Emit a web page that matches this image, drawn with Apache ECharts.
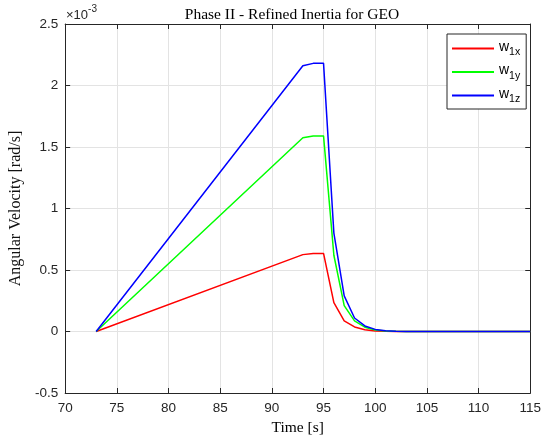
<!DOCTYPE html>
<html>
<head>
<meta charset="utf-8">
<script src="https://cdn.jsdelivr.net/npm/echarts@6/dist/echarts.min.js"></script>
<style>
  html, body { margin: 0; padding: 0; background: #fff; }
  #chart { width: 544px; height: 441px; }
</style>
</head>
<body>
<div id="chart"></div>
<script>
// Time samples [s]
const time = [73, 93, 94, 95, 96, 97, 98, 99, 100, 101, 102, 103, 115];
// Angular velocity components [rad/s]
const w1x = [0, 0.000625, 0.000635, 0.000635, 0.000235, 0.000086, 0.000037, 0.000015, 0.000005, 0.000002, 0.0000005, 0, 0];
const w1y = [0, 0.001575, 0.00159, 0.00159, 0.00062, 0.00021, 0.000086, 0.000035, 0.000013, 0.000005, 0.000002, 0, 0];
const w1z = [0, 0.00216, 0.00218, 0.00218, 0.0008, 0.00029, 0.00011, 0.000045, 0.000017, 0.000006, 0.000002, 0, 0];
const seriesNames = ['w1x', 'w1y', 'w1z'];
const seriesColors = ['#ff0000', '#00ff00', '#0000ff'];

const pairs = vals => time.map((t, i) => [t, vals[i]]);
const axisColor = '#262626';
const sans = 'Liberation Sans, Arial, Helvetica, sans-serif';
const serif = 'Liberation Serif, Times New Roman, serif';

const chart = echarts.init(document.getElementById('chart'), null, { renderer: 'canvas' });

const xCommon = { type: 'value', min: 70, max: 115, interval: 5 };
const yCommon = { type: 'value', min: -0.0005, max: 0.0025, interval: 0.0005 };

chart.setOption({
  animation: false,
  backgroundColor: '#ffffff',
  title: {
    text: 'Phase II - Refined Inertia for GEO',
    left: 287, top: 2, textAlign: 'center',
    textStyle: { fontFamily: serif, fontSize: 15.5, fontWeight: 'normal', color: '#000' }
  },
  grid: { left: 65, right: 9, top: 24, bottom: 47, show: false },
  legend: {
    orient: 'vertical',
    left: 447, top: 34,
    padding: [6, 6, 4, 5],
    itemGap: 5.5,
    itemWidth: 42, itemHeight: 2,
    icon: 'rect',
    backgroundColor: '#fff',
    borderColor: axisColor, borderWidth: 1,
    data: seriesNames,
    formatter: name => '{w|w}{s|' + name.slice(1) + '}',
    textStyle: {
      rich: {
        w: { fontFamily: sans, fontSize: 14, color: '#000', padding: [0, 0, 3, 0] },
        s: { fontFamily: sans, fontSize: 10.5, color: '#000', padding: [8, 0, 0, 0] }
      }
    }
  },
  graphic: [{
    type: 'text', left: 66, top: 4,
    style: {
      text: '{a|\u00d710}{b|-3}',
      rich: {
        a: { fontFamily: sans, fontSize: 13, fill: axisColor, padding: [6, 0, 0, 0] },
        b: { fontFamily: sans, fontSize: 10, fill: axisColor, padding: [0, 0, 6, 0] }
      }
    }
  }],
  xAxis: [
    Object.assign({}, xCommon, {
      position: 'bottom',
      name: 'Time [s]', nameLocation: 'middle', nameGap: 27,
      nameTextStyle: { fontFamily: serif, fontSize: 15.5, color: '#000' },
      axisLine: { show: true, onZero: false, lineStyle: { color: axisColor, width: 1 } },
      axisTick: { show: true, inside: true, length: 5, lineStyle: { color: axisColor } },
      axisLabel: { fontFamily: sans, fontSize: 13.5, color: axisColor, margin: 8 },
      splitLine: { show: true, lineStyle: { color: '#e3e3e3', width: 1 } }
    }),
    Object.assign({}, xCommon, {
      position: 'top',
      axisLine: { show: true, onZero: false, lineStyle: { color: axisColor, width: 1 } },
      axisTick: { show: true, inside: true, length: 5, lineStyle: { color: axisColor } },
      axisLabel: { show: false },
      splitLine: { show: false }
    })
  ],
  yAxis: [
    Object.assign({}, yCommon, {
      position: 'left',
      name: 'Angular Velocity [rad/s]', nameLocation: 'middle', nameGap: 39,
      nameTextStyle: { fontFamily: serif, fontSize: 16, color: '#111' },
      axisLine: { show: true, onZero: false, lineStyle: { color: axisColor, width: 1 } },
      axisTick: { show: true, inside: true, length: 5, lineStyle: { color: axisColor } },
      axisLabel: {
        fontFamily: sans, fontSize: 13.5, color: axisColor, margin: 7,
        formatter: v => String(parseFloat((v * 1000).toFixed(3)))
      },
      splitLine: { show: true, lineStyle: { color: '#e3e3e3', width: 1 } }
    }),
    Object.assign({}, yCommon, {
      position: 'right',
      axisLine: { show: true, onZero: false, lineStyle: { color: axisColor, width: 1 } },
      axisTick: { show: true, inside: true, length: 5, lineStyle: { color: axisColor } },
      axisLabel: { show: false },
      splitLine: { show: false }
    })
  ],
  series: [w1x, w1y, w1z].map((vals, i) => ({
    name: seriesNames[i],
    type: 'line',
    xAxisIndex: 0, yAxisIndex: 0,
    data: pairs(vals),
    showSymbol: false,
    symbol: 'none',
    lineStyle: { color: seriesColors[i], width: 1.5 },
    itemStyle: { color: seriesColors[i] },
    z: 3 + i
  }))
});
</script>
</body>
</html>
